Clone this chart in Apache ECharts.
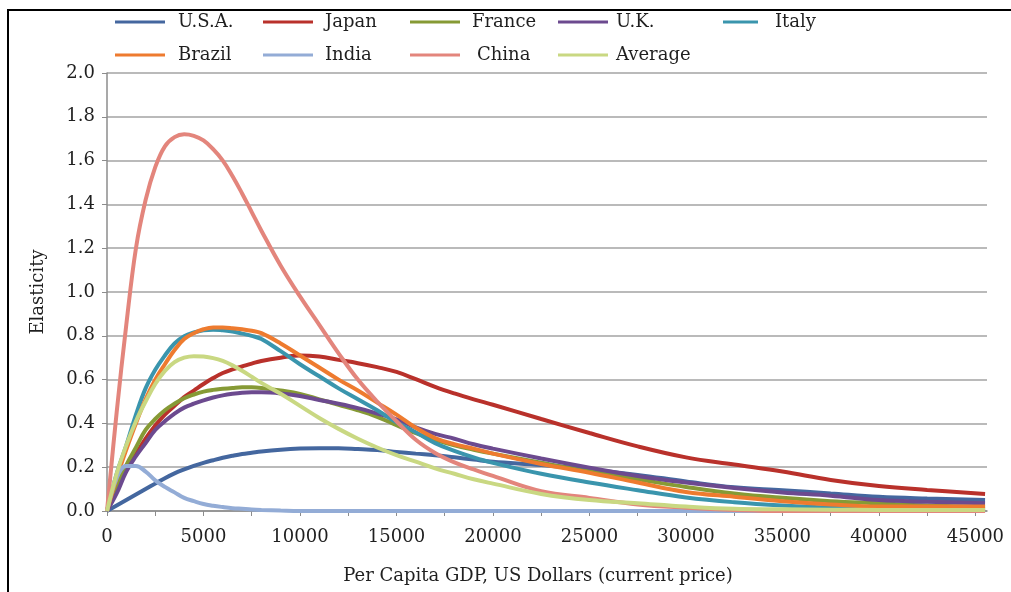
<!DOCTYPE html>
<html>
<head>
<meta charset="utf-8">
<script src="https://cdn.jsdelivr.net/npm/echarts@6/dist/echarts.min.js"></script>
<style>
html,body{margin:0;padding:0;background:#fff;}
#wrap{position:relative;width:1011px;height:592px;}
#chart{position:absolute;left:0;top:0;width:1011px;height:592px;}
#frame{position:absolute;left:7px;top:9px;right:-5px;bottom:-5px;border-top:2px solid #000;border-left:2px solid #000;pointer-events:none;}
</style>
</head>
<body>
<div id="wrap"><div id="chart"></div><div id="frame"></div></div>
<script>
const gdp = [0, 500, 1000, 1500, 2000, 2500, 3000, 3500, 4000, 4500, 5000, 5500, 6000, 6500, 7000, 7500, 8000, 9000, 10000, 11000, 12000, 13000, 14000, 15000, 16000, 17000, 18000, 19000, 20000, 22500, 25000, 27500, 30000, 32500, 35000, 37500, 40000, 42500, 45500];
const usa    = [0, 0.025, 0.05, 0.075, 0.1, 0.125, 0.15, 0.172, 0.19, 0.206, 0.22, 0.232, 0.243, 0.252, 0.26, 0.266, 0.272, 0.28, 0.285, 0.287, 0.287, 0.283, 0.278, 0.27, 0.262, 0.255, 0.245, 0.235, 0.225, 0.21, 0.19, 0.165, 0.135, 0.108, 0.095, 0.08, 0.065, 0.057, 0.05];
const japan  = [0, 0.1, 0.19, 0.26, 0.33, 0.39, 0.44, 0.48, 0.52, 0.55, 0.58, 0.607, 0.63, 0.647, 0.66, 0.673, 0.685, 0.70, 0.71, 0.705, 0.69, 0.675, 0.657, 0.635, 0.602, 0.567, 0.537, 0.51, 0.485, 0.42, 0.356, 0.295, 0.245, 0.212, 0.18, 0.142, 0.114, 0.096, 0.078];
const france = [0, 0.11, 0.21, 0.29, 0.37, 0.42, 0.46, 0.49, 0.515, 0.532, 0.545, 0.553, 0.558, 0.562, 0.565, 0.565, 0.562, 0.55, 0.535, 0.51, 0.485, 0.46, 0.43, 0.392, 0.355, 0.325, 0.3, 0.28, 0.262, 0.22, 0.18, 0.145, 0.11, 0.08, 0.06, 0.045, 0.035, 0.025, 0.02];
const uk     = [0, 0.08, 0.18, 0.25, 0.31, 0.37, 0.41, 0.445, 0.472, 0.49, 0.505, 0.518, 0.528, 0.535, 0.54, 0.542, 0.542, 0.537, 0.525, 0.507, 0.49, 0.47, 0.445, 0.418, 0.382, 0.352, 0.33, 0.305, 0.285, 0.24, 0.198, 0.16, 0.13, 0.105, 0.085, 0.07, 0.05, 0.042, 0.035];
const italy  = [0, 0.17, 0.3, 0.44, 0.56, 0.645, 0.71, 0.765, 0.798, 0.815, 0.825, 0.828, 0.825, 0.82, 0.81, 0.8, 0.785, 0.73, 0.67, 0.615, 0.56, 0.51, 0.46, 0.405, 0.36, 0.31, 0.275, 0.245, 0.22, 0.17, 0.13, 0.095, 0.062, 0.04, 0.025, 0.015, 0.012, 0.01, 0.01];
const brazil = [0, 0.15, 0.28, 0.4, 0.51, 0.6, 0.67, 0.735, 0.785, 0.812, 0.83, 0.838, 0.838, 0.835, 0.83, 0.823, 0.812, 0.765, 0.71, 0.655, 0.6, 0.55, 0.495, 0.44, 0.38, 0.333, 0.305, 0.285, 0.262, 0.215, 0.175, 0.13, 0.087, 0.065, 0.045, 0.03, 0.02, 0.02, 0.02];
const india  = [0, 0.15, 0.205, 0.205, 0.18, 0.14, 0.11, 0.085, 0.06, 0.045, 0.032, 0.024, 0.018, 0.013, 0.01, 0.007, 0.005, 0.002, 0, 0, 0, 0, 0, 0, 0, 0, 0, 0, 0, 0, 0, 0, 0, 0, 0, 0, 0, 0, 0];
const china  = [0, 0.45, 0.85, 1.2, 1.42, 1.57, 1.665, 1.707, 1.72, 1.713, 1.692, 1.652, 1.6, 1.53, 1.45, 1.365, 1.28, 1.12, 0.98, 0.85, 0.72, 0.6, 0.5, 0.41, 0.325, 0.265, 0.222, 0.19, 0.16, 0.09, 0.06, 0.03, 0.015, 0.005, 0, 0, 0, 0, 0];
const average= [0, 0.17, 0.3, 0.41, 0.5, 0.58, 0.64, 0.68, 0.7, 0.707, 0.705, 0.698, 0.685, 0.665, 0.64, 0.613, 0.585, 0.535, 0.48, 0.425, 0.375, 0.33, 0.29, 0.255, 0.225, 0.195, 0.17, 0.145, 0.125, 0.078, 0.05, 0.035, 0.02, 0.01, 0.008, 0.006, 0.005, 0.005, 0.005];

const seriesNames = ['U.S.A.', 'Japan', 'France', 'U.K.', 'Italy', 'Brazil', 'India', 'China', 'Average'];
const seriesValues = [usa, japan, france, uk, italy, brazil, india, china, average];
const seriesColors = ['#44679f', '#b9312b', '#869a35', '#6c4a8f', '#3a95ad', '#ee7b2f', '#93acd6', '#e3857c', '#c9d882'];

const xLabelTicks = [0, 5000, 10000, 15000, 20000, 25000, 30000, 35000, 40000, 45000];
const xMinorTicks = [0, 2500, 5000, 7500, 10000, 12500, 15000, 17500, 20000, 22500, 25000, 27500, 30000, 32500, 35000, 37500, 40000, 42500, 45000];

const FONT = '"DejaVu Serif", "Liberation Serif", serif';
const TXT = '#1f1f1f';

// legend layout: [left, top, itemWidth, textPadLeft]
const legendLayout = [
  [115, 13, 50, 8], [263, 13, 50, 7], [410, 13, 50, 7], [558, 13, 50, 3], [723, 13, 35, 12],
  [115, 46, 50, 8], [263, 46, 50, 7], [410, 46, 50, 12], [558, 46, 50, 3]
];

const legends = seriesNames.map((n, i) => ({
  data: [n],
  left: legendLayout[i][0],
  top: legendLayout[i][1],
  icon: 'rect',
  itemWidth: legendLayout[i][2],
  itemHeight: 3,
  padding: 0,
  selectedMode: false,
  textStyle: { fontFamily: FONT, fontSize: 18, color: TXT, padding: [0, 0, 0, legendLayout[i][3]] }
}));

const series = seriesNames.map((n, i) => ({
  name: n,
  type: 'line',
  data: gdp.map((x, k) => [x, seriesValues[i][k]]),
  smooth: 0.4,
  showSymbol: false,
  symbol: 'none',
  color: seriesColors[i],
  lineStyle: { width: 4, color: seriesColors[i] },
  emphasis: { disabled: true },
  animation: false
}));

const chart = echarts.init(document.getElementById('chart'), null, { renderer: 'canvas' });
chart.setOption({
  backgroundColor: '#fff',
  animation: false,
  legend: legends,
  grid: { left: 107, right: 24, top: 73, bottom: 81, containLabel: false },
  xAxis: {
    type: 'value', min: 0, max: 45600, interval: 2500,
    name: 'Per Capita GDP, US Dollars (current price)',
    nameLocation: 'middle', nameGap: 56,
    nameTextStyle: { fontFamily: FONT, fontSize: 18, color: TXT, padding: [0, 18, 0, 0] },
    axisLine: { show: true, lineStyle: { color: '#8c8c8c', width: 1.5 } },
    axisTick: { show: true, length: 5, lineStyle: { color: '#8c8c8c', width: 1 }, customValues: xMinorTicks },
    axisLabel: { fontFamily: FONT, fontSize: 18, color: TXT, margin: 17, customValues: xLabelTicks, formatter: v => String(v) },
    splitLine: { show: false }
  },
  yAxis: {
    type: 'value', min: 0, max: 2, interval: 0.2,
    name: 'Elasticity', nameLocation: 'middle', nameGap: 60, nameRotate: 90,
    nameTextStyle: { fontFamily: FONT, fontSize: 18, color: TXT },
    axisLine: { show: true, lineStyle: { color: '#8c8c8c', width: 1.5 } },
    axisTick: { show: true, inside: false, length: 5, lineStyle: { color: '#8c8c8c', width: 1 } },
    axisLabel: { fontFamily: FONT, fontSize: 18, color: TXT, margin: 12, formatter: v => v.toFixed(1) },
    splitLine: { show: true, lineStyle: { color: '#a3a3a3', width: 1.5 } }
  },
  series: series
});
</script>
</body>
</html>
